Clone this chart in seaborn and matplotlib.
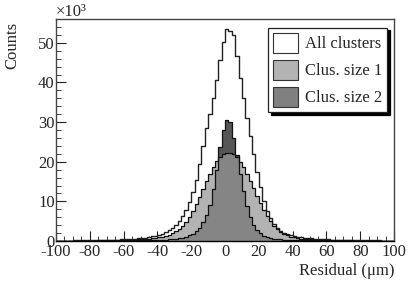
import numpy as np
import pandas as pd
import matplotlib
matplotlib.use("Agg")
import matplotlib.pyplot as plt
from matplotlib.patches import Patch
from matplotlib.ticker import MultipleLocator
import seaborn as sns

# bins of 2 um from -100 to 100, counts in units of 10^3
bin_edges = list(range(-100, 101, 2))
bin_centers = [e + 1 for e in bin_edges[:-1]]

all_clusters = [
    0.10, 0.10, 0.11, 0.12, 0.12, 0.13, 0.14, 0.15, 0.16, 0.17, 0.18, 0.20, 0.21,
    0.23, 0.25, 0.27, 0.30, 0.33, 0.36, 0.40, 0.44, 0.49, 0.55, 0.62, 0.70,
    0.78, 0.88, 1.0, 1.15, 1.35, 1.55, 1.8, 2.2, 2.7, 3.3, 4.1, 5.0, 6.2,
    7.8, 9.8, 12.3, 15.5, 19.5, 24.0, 28.5, 32.0, 36.0, 40.5, 45.7, 50.2,
    53.5, 53.0, 52.0, 46.7, 41.1, 36.0, 31.0, 26.5, 22.0, 17.5, 13.5, 10.2, 7.6,
    5.7, 4.3, 3.3, 2.6, 2.1, 1.75, 1.45, 1.22, 1.05, 0.92, 0.82, 0.74,
    0.66, 0.60, 0.54, 0.49, 0.44, 0.40, 0.36, 0.33, 0.30, 0.28, 0.26, 0.24, 0.22,
    0.20, 0.19, 0.18, 0.17, 0.16, 0.15, 0.14, 0.13, 0.12, 0.12, 0.11, 0.10,
]
clus_size1 = [
    0.06, 0.06, 0.07, 0.07, 0.07, 0.08, 0.08, 0.09, 0.10, 0.10, 0.11, 0.12, 0.13,
    0.14, 0.15, 0.16, 0.18, 0.20, 0.22, 0.24, 0.26, 0.29, 0.33, 0.37, 0.42,
    0.47, 0.53, 0.60, 0.69, 0.80, 0.92, 1.07, 1.3, 1.6, 2.0, 2.5, 3.1, 3.9,
    4.9, 6.1, 7.6, 9.3, 11.2, 13.2, 15.2, 17.0, 18.7, 20.1, 21.2, 22.0,
    22.3, 22.3, 22.0, 21.2, 20.0, 18.6, 17.0, 15.2, 13.3, 11.4, 9.6, 7.9, 6.3,
    5.0, 3.9, 3.0, 2.3, 1.8, 1.4, 1.1, 0.9, 0.75, 0.63, 0.54, 0.47,
    0.41, 0.37, 0.33, 0.29, 0.26, 0.24, 0.22, 0.20, 0.18, 0.17, 0.15, 0.14, 0.13,
    0.12, 0.11, 0.10, 0.10, 0.09, 0.08, 0.08, 0.07, 0.07, 0.07, 0.06, 0.06,
]
clus_size2 = [
    0.02, 0.02, 0.02, 0.02, 0.03, 0.03, 0.03, 0.03, 0.03, 0.04, 0.04, 0.04, 0.05,
    0.05, 0.05, 0.06, 0.06, 0.07, 0.08, 0.08, 0.09, 0.10, 0.11, 0.12, 0.14,
    0.15, 0.17, 0.19, 0.21, 0.24, 0.27, 0.31, 0.36, 0.42, 0.5, 0.6, 0.72, 0.88,
    1.1, 1.4, 1.85, 2.5, 3.4, 4.7, 6.5, 9.2, 13.0, 17.8, 23.8, 28.0,
    30.5, 30.1, 25.9, 21.7, 17.0, 12.5, 8.8, 6.0, 4.0, 2.7, 1.9, 1.35, 1.0,
    0.78, 0.62, 0.50, 0.42, 0.36, 0.31, 0.27, 0.24, 0.21, 0.19, 0.17, 0.15,
    0.14, 0.12, 0.11, 0.10, 0.09, 0.08, 0.08, 0.07, 0.06, 0.06, 0.05, 0.05, 0.05,
    0.04, 0.04, 0.04, 0.03, 0.03, 0.03, 0.03, 0.03, 0.02, 0.02, 0.02, 0.02,
]
legend_labels = ["All clusters", "Clus. size 1", "Clus. size 2"]

df = pd.DataFrame({
    "residual": bin_centers,
    "all": all_clusters,
    "size1": clus_size1,
    "size2": clus_size2,
})
df["both"] = np.minimum(df["size1"], df["size2"])

sns.set_style("ticks")
plt.rcParams["font.family"] = ["Liberation Serif", "DejaVu Serif"]
plt.rcParams["axes.unicode_minus"] = False

fig = plt.figure(figsize=(4.15, 2.81), dpi=100)
ax = fig.add_axes([0.135, 0.1423, 0.8145, 0.79])

line_col = "#222222"


def hist(col, **kws):
    sns.histplot(data=df, x="residual", weights=col, bins=bin_edges,
                 element="step", ax=ax, **kws)


# white "all clusters" histogram
hist("all", fill=True, facecolor="white", edgecolor=line_col, linewidth=1.0, alpha=1)
# size 1 (light) and size 2 (dark), overlap shown medium gray
hist("size1", fill=True, facecolor="#b3b3b3", edgecolor="none", linewidth=0, alpha=1)
hist("size2", fill=True, facecolor="#565656", edgecolor="none", linewidth=0, alpha=1)
hist("both", fill=True, facecolor="#858585", edgecolor="none", linewidth=0, alpha=1)
hist("size1", fill=False, color="#111111", linewidth=0.9)
hist("size2", fill=False, color="#111111", linewidth=0.9)

ax.set_xlim(-100, 100)
ax.set_ylim(0, 56)
ax.xaxis.set_major_locator(MultipleLocator(20))
ax.xaxis.set_minor_locator(MultipleLocator(5))
ax.yaxis.set_major_locator(MultipleLocator(10))
ax.yaxis.set_minor_locator(MultipleLocator(2))
ax.tick_params(which="both", direction="in", color=line_col, labelsize=12,
               top=False, right=False)
ax.tick_params(which="major", length=7)
ax.tick_params(which="minor", length=3.6)
ax.tick_params(axis="y", pad=1)
ax.tick_params(axis="x", pad=2)
for s in ax.spines.values():
    s.set_color("#444444")
    s.set_linewidth(1.0)
ax.spines["bottom"].set_color("black")

ax.set_xlabel("Residual (\u03bcm)", fontsize=12, ha="right", x=1.0, labelpad=2)
ax.set_ylabel("Counts", fontsize=12, ha="right", y=0.985, labelpad=13)
ax.text(0.0, 0.995, "\u00d710\u00b3", transform=ax.transAxes, fontsize=12,
        ha="left", va="bottom")

handles = [
    Patch(facecolor="white", edgecolor="#333333", linewidth=0.8),
    Patch(facecolor="#b3b3b3", edgecolor="#333333", linewidth=0.8),
    Patch(facecolor="#808080", edgecolor="#333333", linewidth=0.8),
]
leg = ax.legend(handles, legend_labels, loc="upper right",
                bbox_to_anchor=(0.979, 0.961), borderaxespad=0,
                fontsize=12, handlelength=1.5, handleheight=1.5,
                labelspacing=0.4, handletextpad=0.4, borderpad=0.3,
                fancybox=False, shadow={"color": "black", "alpha": 1},
                framealpha=1, edgecolor="#222222")
leg.get_frame().set_linewidth(0.9)

fig.savefig("out.png", dpi=100)
